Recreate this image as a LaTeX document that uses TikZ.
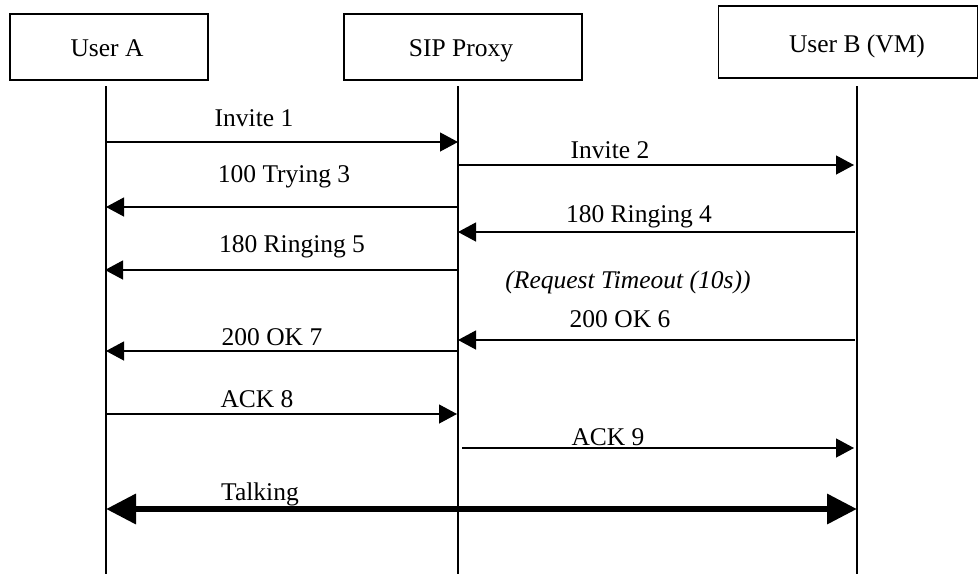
\documentclass[tikz,border=0pt]{standalone}
\usepackage{fontspec}
\setmainfont{Liberation Serif}
\usetikzlibrary{arrows.meta}

\tikzset{
  party/.style 2 args={draw, line width=1.2pt, minimum width=#1, minimum height=#2, inner sep=0pt},
  lifeline/.style={line width=1.2pt},
  msg/.style={line width=1.2pt, -{Triangle[length=18pt,width=19pt]}},
  talk/.style={line width=6.5pt, {Triangle[length=30pt,width=29pt]}-{Triangle[length=30pt,width=29pt]}},
  lbl/.style={anchor=base, inner sep=0pt, font=\fontsize{25.5}{30}\selectfont},
  plbl/.style={anchor=base, inner sep=0pt, font=\fontsize{25.5}{30}\selectfont}
}

\begin{document}
\begin{tikzpicture}[x=1pt, y=-1pt]
  \useasboundingbox (0,0) rectangle (979,574);

  % participants
  \node[party={198pt}{66pt}] (ua) at (109,47) {};
  \node[party={238pt}{66pt}] (px) at (463,47) {};
  \node[party={259pt}{72pt}] (ub) at (848,42) {};
  \node[plbl] (uat) at (107,56) {User A};
  \node[plbl] (pxt) at (461,56) {SIP Proxy};
  \node[plbl] (ubt) at (857,52) {User B (VM)};

  % lifelines
  \coordinate (la0) at (106,86);  \coordinate (la1) at (106,574);
  \coordinate (lp0) at (458,86);  \coordinate (lp1) at (458,574);
  \coordinate (lb0) at (857,86);  \coordinate (lb1) at (857,574);
  \draw[lifeline] (la0) -- (la1);
  \draw[lifeline] (lp0) -- (lp1);
  \draw[lifeline] (lb0) -- (lb1);

  % message end points
  \coordinate (m1s) at (106,142); \coordinate (m1e) at (458,142);
  \coordinate (m2s) at (458,165); \coordinate (m2e) at (854,165);
  \coordinate (m3s) at (458,207); \coordinate (m3e) at (106,207);
  \coordinate (m4s) at (855,232); \coordinate (m4e) at (458,232);
  \coordinate (m5s) at (458,270); \coordinate (m5e) at (105,270);
  \coordinate (m6s) at (855,340); \coordinate (m6e) at (458,340);
  \coordinate (m7s) at (458,351); \coordinate (m7e) at (106,351);
  \coordinate (m8s) at (106,414); \coordinate (m8e) at (457,414);
  \coordinate (m9s) at (462,448); \coordinate (m9e) at (854,448);
  \coordinate (tks) at (106,509); \coordinate (tke) at (857,509);

  % messages
  \draw[msg] (m1s) -- (m1e);
  \draw[msg] (m2s) -- (m2e);
  \draw[msg] (m3s) -- (m3e);
  \draw[msg] (m4s) -- (m4e);
  \draw[msg] (m5s) -- (m5e);
  \draw[msg] (m6s) -- (m6e);
  \draw[msg] (m7s) -- (m7e);
  \draw[msg] (m8s) -- (m8e);
  \draw[msg] (m9s) -- (m9e);
  \draw[talk] (tks) -- (tke);

  % message labels
  \node[lbl] (t1) at (254,126) {Invite 1};
  \node[lbl] (t2) at (610,158) {Invite 2};
  \node[lbl] (t3) at (284,182) {100 Trying 3};
  \node[lbl] (t4) at (639,222) {180 Ringing 4};
  \node[lbl] (t5) at (292,252) {180 Ringing 5};
  \node[lbl] (tt) at (628,288) {\itshape (Request Timeout (10s))};
  \node[lbl] (t6) at (620,327) {200 OK 6};
  \node[lbl] (t7) at (272,345) {200 OK 7};
  \node[lbl] (t8) at (257,407) {ACK 8};
  \node[lbl] (t9) at (608,445) {ACK 9};
  \node[lbl] (tk) at (260,500) {Talking};
\end{tikzpicture}
\end{document}
